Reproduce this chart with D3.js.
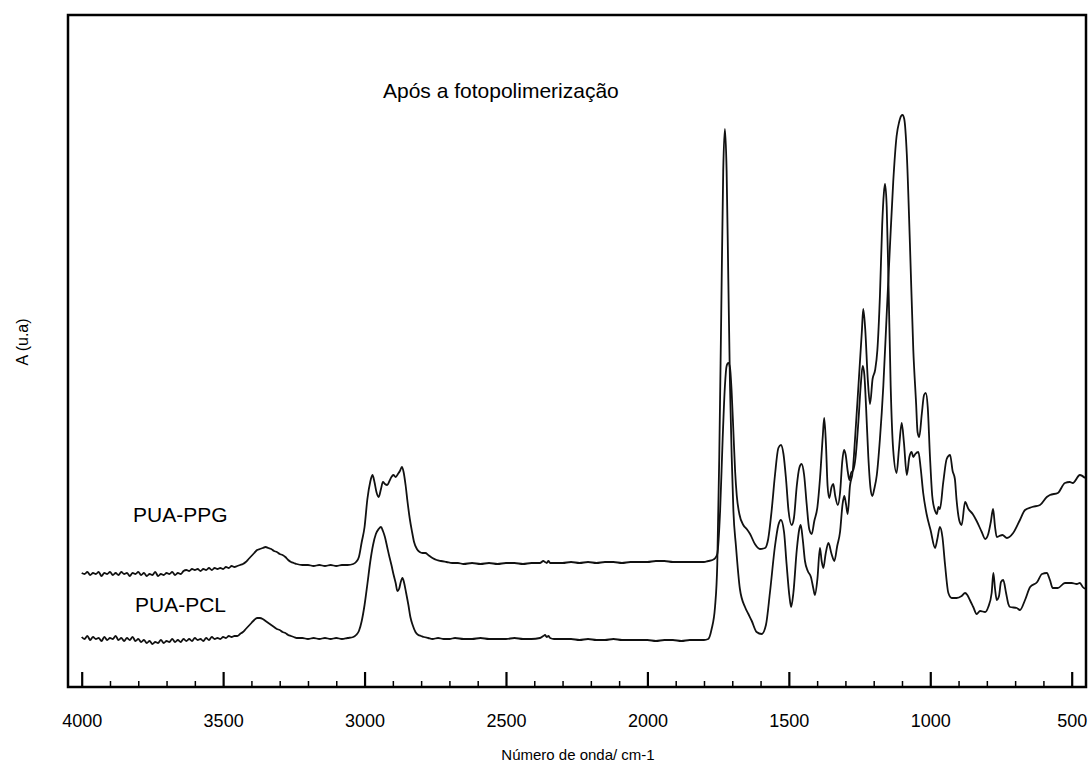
<!DOCTYPE html>
<html><head><meta charset="utf-8">
<script src="https://cdn.jsdelivr.net/npm/d3@7"></script>
<style>
body{margin:0;background:#fff}
svg{display:block}
text{font-family:"Liberation Sans",Arial,Helvetica,sans-serif;fill:#000}
</style>
</head><body>
<svg id="chart" width="1091" height="771"></svg>
<script>
// ---- data (wavenumber cm-1, absorbance in arbitrary units) ----
const majorTicks = [4000,3500,3000,2500,2000,1500,1000,500];
const minorTicks = [3900,3800,3700,3600,3400,3300,3200,3100,2900,2800,2700,2600,2400,2300,2200,2100,1900,1800,1700,1600,1400,1300,1200,1100,900,800,700,600];
const chartTitle = "Após a fotopolimerização";
const xTitle = "Número de onda/ cm-1";
const yTitle = "A (u.a)";
const seriesNames = ["PUA-PPG","PUA-PCL"];

const ppg = [
[4000,114],[3990,113],[3980,115],[3970,112],[3960,114],[3950,113],[3940,115],[3930,111],[3920,114],[3910,113],
[3900,115],[3890,112],[3880,114],[3870,112],[3860,115],[3850,113],[3840,114],[3830,111],[3820,114],[3810,113],
[3800,115],[3790,112],[3780,114],[3770,111],[3760,113],[3750,112],[3740,115],[3730,111],[3720,113],[3710,112],
[3700,114],[3690,113],[3680,115],[3670,112],[3660,114],[3650,113],[3640,116],[3630,117],[3620,116],[3610,118],
[3600,117],[3590,118],[3580,116],[3570,118],[3560,117],[3550,119],[3540,117],[3530,119],[3520,118],[3510,119],
[3500,118],[3490,120],[3480,119],[3470,121],[3460,120],[3450,121],[3440,122],[3430,123],[3420,125],[3410,128],
[3400,131],[3390,134],[3380,137],[3370,138],[3360,139],[3350,140],[3340,139],[3330,138],[3320,136],[3310,135],
[3300,133],[3290,132],[3280,130],[3270,127],[3260,125],[3250,124],[3240,123],[3220,122],[3200,122],[3180,121],
[3160,122],[3140,121],[3120,122],[3100,121],[3080,122],[3060,122],[3040,123],[3030,125],[3020,130],[3010,145],
[3000,160],[2990,188],[2980,205],[2972,212],[2965,205],[2958,195],[2950,190],[2942,198],[2935,205],[2928,203],
[2920,202],[2912,206],[2905,210],[2898,212],[2890,210],[2882,213],[2875,216],[2868,220],[2862,215],[2855,202],
[2848,185],[2840,168],[2832,155],[2825,145],[2815,138],[2805,135],[2795,134],[2785,134],[2775,132],[2760,129],
[2745,127],[2730,126],[2710,125],[2690,124],[2670,124],[2650,123],[2620,124],[2590,123],[2560,124],[2530,123],
[2500,124],[2470,124],[2440,123],[2410,124],[2380,124],[2368,126],[2362,125],[2356,124],[2350,126],[2344,124],
[2330,124],[2300,124],[2270,125],[2240,124],[2210,125],[2180,124],[2150,125],[2120,125],[2090,124],[2060,125],
[2030,125],[2000,125],[1970,126],[1940,126],[1910,125],[1880,125],[1850,125],[1820,125],[1800,125],[1785,126],
[1770,127],[1760,129],[1753,133],[1743,176],[1734,248],[1726,301],[1720,321],[1714,324],[1708,319],[1702,294],
[1696,255],[1690,216],[1684,191],[1675,173],[1661,162],[1649,158],[1637,153],[1620,143],[1602,138],[1584,139],
[1573,148],[1561,176],[1549,212],[1537,239],[1528,242],[1519,233],[1510,208],[1501,176],[1490,162],[1482,169],
[1472,201],[1463,219],[1455,223],[1446,212],[1437,183],[1428,158],[1419,153],[1410,166],[1399,180],[1390,208],
[1380,251],[1375,269],[1369,244],[1363,201],[1357,189],[1349,200],[1343,203],[1336,191],[1327,182],[1319,194],
[1311,226],[1305,237],[1299,232],[1292,216],[1286,207],[1280,214],[1272,217],[1264,230],[1254,266],[1246,301],
[1239,321],[1233,312],[1227,280],[1219,230],[1211,198],[1205,191],[1198,198],[1189,212],[1178,248],[1166,301],
[1154,373],[1142,444],[1131,505],[1119,551],[1110,565],[1103,571],[1098,572],[1092,568],[1083,533],[1072,444],
[1060,337],[1050,283],[1045,255],[1039,250],[1030,273],[1022,292],[1016,294],[1009,280],[1001,230],[993,191],
[983,176],[977,173],[971,180],[966,178],[954,205],[942,228],[930,232],[921,216],[913,208],[907,187],
[897,166],[889,162],[877,185],[865,178],[850,173],[836,166],[818,155],[806,148],[795,153],[786,165],
[778,178],[771,160],[765,150],[756,151],[745,152],[729,149],[707,154],[683,167],[665,177],[640,180],
[612,182],[588,190],[577,192],[549,194],[524,204],[507,205],[496,204],[471,212],[453,209]
];

const pcl = [
[4000,50],[3990,48],[3980,51],[3970,47],[3960,50],[3950,48],[3940,49],[3930,46],[3920,50],[3910,47],
[3900,49],[3890,48],[3880,51],[3870,47],[3860,49],[3850,46],[3840,49],[3830,47],[3820,50],[3810,46],
[3800,48],[3790,45],[3780,47],[3770,44],[3760,46],[3750,43],[3740,45],[3730,44],[3720,47],[3710,44],
[3700,46],[3690,45],[3680,48],[3670,45],[3660,47],[3650,45],[3640,48],[3630,46],[3620,48],[3610,46],
[3600,49],[3590,47],[3580,48],[3570,46],[3560,49],[3550,47],[3540,50],[3530,48],[3520,49],[3510,48],
[3500,50],[3490,49],[3480,51],[3470,50],[3460,51],[3450,51],[3440,53],[3430,55],[3420,58],[3410,61],
[3400,64],[3390,67],[3380,69],[3370,69],[3360,68],[3350,66],[3340,64],[3330,62],[3320,60],[3310,58],
[3300,57],[3290,55],[3280,54],[3270,52],[3260,51],[3250,50],[3240,49],[3220,49],[3200,48],[3180,49],
[3160,48],[3140,49],[3120,48],[3100,49],[3080,48],[3060,49],[3040,50],[3030,52],[3020,56],[3010,66],
[3000,82],[2990,103],[2980,125],[2970,142],[2960,153],[2950,158],[2942,160],[2935,156],[2928,150],[2920,140],
[2912,130],[2905,122],[2898,113],[2890,104],[2884,96],[2878,98],[2872,105],[2866,109],[2860,104],[2853,94],
[2845,82],[2838,70],[2830,62],[2820,55],[2810,52],[2800,51],[2790,50],[2775,49],[2760,48],[2740,49],
[2720,48],[2700,48],[2680,49],[2650,48],[2620,48],[2590,49],[2560,48],[2530,48],[2500,48],[2470,49],
[2440,48],[2410,48],[2380,49],[2368,51],[2362,52],[2356,50],[2350,51],[2344,49],[2330,48],[2300,48],
[2270,48],[2240,47],[2210,48],[2180,47],[2150,47],[2120,48],[2090,47],[2060,47],[2030,47],[2000,47],
[1970,46],[1940,47],[1910,47],[1880,46],[1850,47],[1820,47],[1800,47],[1785,48],[1773,58],[1761,80],
[1753,123],[1746,230],[1739,373],[1732,516],[1726,558],[1720,516],[1714,408],[1708,301],[1702,230],[1696,176],
[1687,141],[1673,98],[1655,80],[1643,73],[1631,66],[1614,55],[1596,53],[1581,62],[1567,94],[1549,141],
[1537,162],[1528,167],[1517,155],[1508,123],[1498,91],[1492,80],[1484,94],[1472,137],[1463,158],[1458,162],
[1451,148],[1443,126],[1433,116],[1422,110],[1413,98],[1408,92],[1399,108],[1390,139],[1384,126],[1378,119],
[1370,133],[1360,144],[1349,133],[1339,126],[1329,141],[1319,155],[1310,183],[1304,191],[1298,183],[1292,173],
[1284,201],[1274,216],[1266,248],[1254,301],[1242,355],[1237,378],[1230,358],[1221,308],[1213,283],[1204,308],
[1195,317],[1187,337],[1178,391],[1170,462],[1164,494],[1160,503],[1154,480],[1148,408],[1140,301],[1131,237],
[1119,214],[1111,237],[1101,264],[1093,244],[1083,212],[1074,230],[1066,235],[1060,230],[1053,233],[1042,235],
[1034,219],[1025,194],[1013,173],[999,157],[983,139],[975,148],[966,160],[957,150],[948,123],[936,94],
[924,89],[907,89],[889,91],[877,94],[869,92],[860,87],[848,80],[836,73],[824,76],[806,75],
[795,80],[783,94],[777,114],[771,98],[765,87],[757,91],[750,105],[742,107],[732,94],[724,83],
[718,80],[694,79],[683,77],[665,87],[647,100],[622,105],[605,113],[588,114],[577,107],[567,99],
[549,99],[524,104],[500,104],[482,103],[471,104],[461,100],[450,98]
];

// ---- layout ----
const svg = d3.select("#chart");
const frame = {left:68, top:15, right:1086, bottom:687};
const x = d3.scaleLinear().domain([4000,500]).range([81.7,1071.7]);
const y = d3.scaleLinear().domain([0,672]).range([frame.bottom, frame.top]);

svg.append("defs").append("clipPath").attr("id","clip")
  .append("rect").attr("x",frame.left).attr("y",frame.top)
  .attr("width",frame.right-frame.left).attr("height",frame.bottom-frame.top);

const line = d3.line().x(d=>x(d[0])).y(d=>y(d[1])).curve(d3.curveMonotoneX);

const g = svg.append("g").attr("clip-path","url(#clip)");
[ppg, pcl].forEach(s=>{
  g.append("path").datum(s).attr("d",line)
   .attr("fill","none").attr("stroke","#111").attr("stroke-width",1.8)
   .attr("stroke-linejoin","round");
});

// minor ticks
const minorAxis = d3.axisBottom(x).tickValues(minorTicks).tickSize(-6).tickFormat("");
const gm = svg.append("g").attr("transform",`translate(0,${frame.bottom})`).call(minorAxis);
gm.select(".domain").remove();
gm.selectAll(".tick line").attr("stroke","#000").attr("stroke-width",1.5);

// major ticks
const majorAxis = d3.axisBottom(x).tickValues(majorTicks).tickSize(-15).tickPadding(27).tickFormat(d3.format("d"));
const gM = svg.append("g").attr("transform",`translate(0,${frame.bottom})`).call(majorAxis);
gM.select(".domain").remove();
gM.selectAll(".tick line").attr("stroke","#000").attr("stroke-width",2.2);
gM.selectAll(".tick text").attr("font-size",18).attr("font-family",'"Liberation Sans",Arial,sans-serif').attr("fill","#000");

// frame
svg.append("rect").attr("x",frame.left).attr("y",frame.top)
  .attr("width",frame.right-frame.left).attr("height",frame.bottom-frame.top)
  .attr("fill","none").attr("stroke","#000").attr("stroke-width",2.5);

// texts
svg.append("text").attr("x",383).attr("y",98).attr("font-size",21).text(chartTitle);
svg.append("text").attr("x",578).attr("y",760).attr("text-anchor","middle").attr("font-size",15).text(xTitle);
svg.append("text").attr("transform","translate(28,342) rotate(-90)").attr("text-anchor","middle").attr("font-size",16).text(yTitle);
svg.append("text").attr("x",133).attr("y",522).attr("font-size",21).text(seriesNames[0]);
svg.append("text").attr("x",135).attr("y",612).attr("font-size",21).text(seriesNames[1]);
</script>
</body></html>
